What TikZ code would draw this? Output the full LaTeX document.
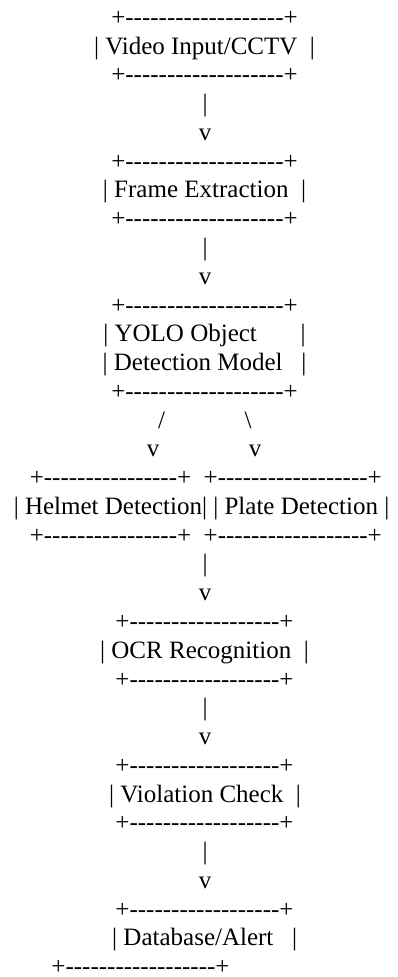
\documentclass[tikz,border=0pt]{standalone}
\usepackage{fontspec}
\newfontfamily\tnr{Liberation Serif}
\ExplSyntaxOn
\cs_new:Npn \dashrun #1 { \prg_replicate:nn {#1} {-} }
\ExplSyntaxOff
\tikzset{
  ln/.style={inner sep=0pt, outer sep=0pt, anchor=base, font=\tnr\fontsize{25}{28.77}\selectfont, text=black}
}
\begin{document}
\begin{tikzpicture}[x=1pt,y=-1pt]
\fill[white] (0,0) rectangle (397,977);
\useasboundingbox (0,0) rectangle (397,977);
% Video Input
\node[ln] (l1)  at (204.5,25.3)  {+\dashrun{19}+};
\node[ln] (l2)  at (204.5,54.07) {| Video Input/CCTV\ \ |};
\node[ln] (l3)  at (204.5,82.84) {+\dashrun{19}+};
\node[ln] (l4)  at (205,111.61)  {|};
\node[ln] (l5)  at (205,140.38)  {v};
% Frame Extraction
\node[ln] (l6)  at (204.5,169.15) {+\dashrun{19}+};
\node[ln] (l7)  at (204.5,197.92) {| Frame Extraction\ \ |};
\node[ln] (l8)  at (204.5,226.69) {+\dashrun{19}+};
\node[ln] (l9)  at (205,255.46)   {|};
\node[ln] (l10) at (205,284.23)   {v};
% YOLO
\node[ln] (l11) at (204.5,313.0)  {+\dashrun{19}+};
\node[ln] (l12) at (204.5,341.77) {| YOLO Object\ \ \ \ \ \ \ |};
\node[ln] (l13) at (204.5,370.54) {| Detection Model\ \ \ |};
\node[ln] (l14) at (204.5,399.31) {+\dashrun{19}+};
\node[ln] (l15a) at (161.7,428.08) {/};
\node[ln] (l15b) at (248,428.08)   {\textbackslash};
\node[ln] (l16a) at (153,456.85)   {v};
\node[ln] (l16b) at (255,456.85)   {v};
% Helmet / Plate
\node[ln] (l17) at (205.8,485.62) {+\dashrun{16}+\ \ +\dashrun{18}+};
\node[ln] (l18) at (201.5,514.39) {| Helmet Detection| | Plate Detection |};
\node[ln] (l19) at (205.8,543.16) {+\dashrun{16}+\ \ +\dashrun{18}+};
\node[ln] (l20) at (205,571.93)   {|};
\node[ln] (l21) at (205,600.7)    {v};
% OCR
\node[ln] (l22) at (204.5,629.47) {+\dashrun{18}+};
\node[ln] (l23) at (204.5,658.24) {| OCR Recognition\ \ |};
\node[ln] (l24) at (204.5,687.01) {+\dashrun{18}+};
\node[ln] (l25) at (205,715.78)   {|};
\node[ln] (l26) at (205,744.55)   {v};
% Violation
\node[ln] (l27) at (204.5,773.32) {+\dashrun{18}+};
\node[ln] (l28) at (205,802.09)   {| Violation Check\ \ |};
\node[ln] (l29) at (204.5,830.86) {+\dashrun{18}+};
\node[ln] (l30) at (205,859.63)   {|};
\node[ln] (l31) at (205,888.4)    {v};
% Database
\node[ln] (l32) at (204.5,917.17) {+\dashrun{18}+};
\node[ln] (l33) at (204.7,945.94) {| Database/Alert\ \ \ |};
\node[ln] (l34) at (140.5,974.71) {+\dashrun{18}+};
\end{tikzpicture}
\end{document}
